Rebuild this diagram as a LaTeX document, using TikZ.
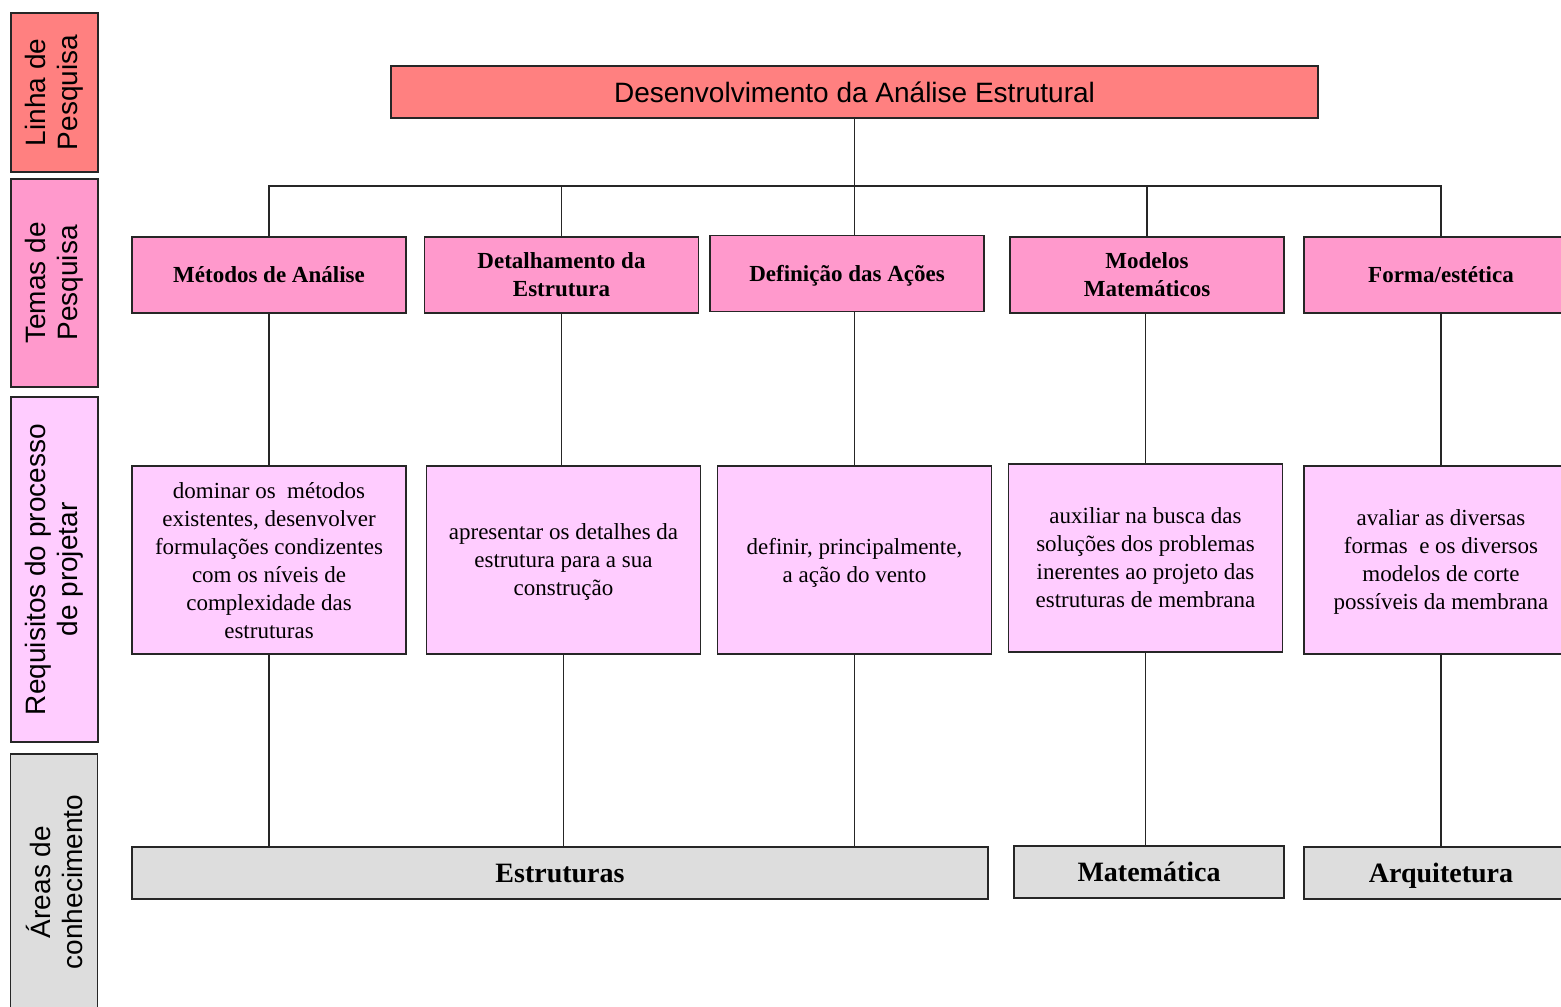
\documentclass[tikz,border=0pt]{standalone}
\usepackage{fontspec}
\setmainfont{Liberation Serif}
\setsansfont{Liberation Sans}
\definecolor{salmon}{HTML}{FF8080}
\definecolor{pinkA}{HTML}{FF99CC}
\definecolor{pinkB}{HTML}{FFCCFF}
\definecolor{greyA}{HTML}{DDDDDD}
\tikzset{
  box/.style={draw=black!85, line width=0.9pt, inner sep=0pt, align=center},
  side/.style={box, rotate=90, minimum height=43.5pt, font=\sffamily\fontsize{14}{16}\selectfont},
  theme/.style={box, fill=pinkA, minimum width=137pt, minimum height=38pt, text depth=0pt, font=\bfseries\fontsize{11.5}{14}\selectfont},
  req/.style={box, fill=pinkB, minimum width=137pt, minimum height=94pt, text depth=0pt, font=\fontsize{11.5}{14}\selectfont},
  area/.style={box, fill=greyA, minimum height=26pt, text height=9.5pt, text depth=0pt, font=\bfseries\fontsize{14}{16}\selectfont},
  link/.style={line width=0.85pt, draw=black!85}
}
\begin{document}
\begin{tikzpicture}[x=0.5pt,y=-0.5pt]
\useasboundingbox (0,0) rectangle (1561,1006);
\clip (0,0) rectangle (1561,1006);
% side labels
\node[side, fill=salmon, minimum width=79.5pt] (sl) at (54.5,92.5) {Linha de\\Pesquisa};
\node[side, fill=pinkA, minimum width=104pt] (st) at (54.5,283) {Temas de\\Pesquisa};
\node[side, fill=pinkB, minimum width=172.5pt] (sr) at (54.5,569.5) {Requisitos do processo\\de projetar};
\node[side, fill=greyA, minimum width=128pt] (sa) at (54,882) {Áreas de\\conhecimento};
% top
\node[box, fill=salmon, minimum width=463.5pt, minimum height=26pt, font=\sffamily\fontsize{14}{16}\selectfont] (top) at (854.5,92) {Desenvolvimento da Análise Estrutural};
% themes
\node[theme] (m1) at (269,275) {Métodos de Análise};
\node[theme] (m2) at (561.5,275) {Detalhamento da\\Estrutura};
\node[theme] (m3) at (847,273.5) {Definição das Ações};
\node[theme] (m4) at (1147,275) {Modelos\\Matemáticos};
\node[theme] (m5) at (1441,275) {Forma/estética};
% requirements
\node[req] (r1) at (269,560) {dominar os\ \ métodos\\existentes, desenvolver\\formulações condizentes\\com os níveis de\\complexidade das\\estruturas};
\node[req] (r2) at (563.5,560) {apresentar os detalhes da\\estrutura para a sua\\construção};
\node[req] (r3) at (854.5,560) {definir, principalmente,\\a ação do vento};
\node[req] (r4) at (1145.5,558) {auxiliar na busca das\\soluções dos problemas\\inerentes ao projeto das\\estruturas de membrana};
\node[req] (r5) at (1441,560) {avaliar as diversas\\formas\ \ e os diversos\\modelos de corte\\possíveis da membrana};
% areas
\node[area, minimum width=428pt] (est) at (560,873) {Estruturas};
\node[area, minimum width=135pt] (mat) at (1149,872) {Matemática};
\node[area, minimum width=137pt] (arq) at (1441,873) {Arquitetura};
% connectors
\coordinate (bus) at (854.5,186);
\draw[link] (top.south) -- (top.south |- m3.north);
\draw[link] (m1.north) |- (bus) -| (m5.north);
\draw[link] (m2.north) -- (m2.north |- bus);
\draw[link] (m4.north) -- (m4.north |- bus);
\draw[link] (m1.south) -- (m1.south |- r1.north);
\draw[link] (m2.south) -- (m2.south |- r2.north);
\draw[link] (r3.north) -- (r3.north |- m3.south);
\draw[link] (r4.north) -- (r4.north |- m4.south);
\draw[link] (m5.south) -- (m5.south |- r5.north);
\draw[link] (r1.south) -- (r1.south |- est.north);
\draw[link] (r2.south) -- (r2.south |- est.north);
\draw[link] (r3.south) -- (r3.south |- est.north);
\draw[link] (r4.south) -- (r4.south |- mat.north);
\draw[link] (r5.south) -- (r5.south |- arq.north);
\end{tikzpicture}
\end{document}
